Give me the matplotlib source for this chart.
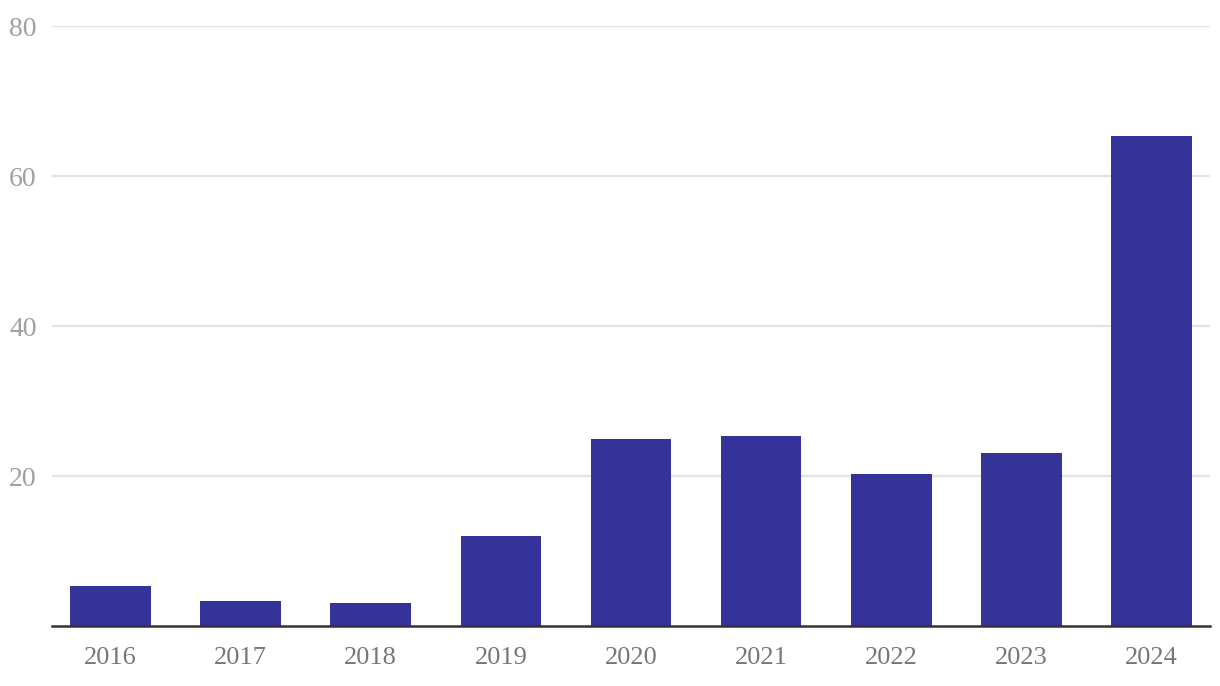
import numpy as np
import matplotlib.pyplot as plt

years = ['2016', '2017', '2018', '2019', '2020', '2021', '2022', '2023', '2024']
values = [5.4, 3.4, 3.1, 12.0, 24.9, 25.3, 20.3, 23.1, 65.3]

plt.rcParams['font.family'] = ['Liberation Serif', 'DejaVu Serif']

fig = plt.figure(figsize=(12.2, 6.86), dpi=100)
ax = fig.add_axes([52 / 1220, 60 / 686, 1158 / 1220, 600 / 686])

x = np.arange(len(years))
ax.bar(x, values, width=0.62, color='#35339a', zorder=3)

ax.set_xlim(-0.449, len(years) - 1 + 0.449)
ax.set_ylim(0, 80)
ax.set_yticks([20, 40, 60, 80])
ax.set_xticks(x)
ax.set_xticklabels(years)

ax.grid(axis='y', color='#e3e3e3', linewidth=1.6, zorder=0)
for side in ['left', 'right', 'top']:
    ax.spines[side].set_visible(False)
ax.spines['bottom'].set_color('#333333')
ax.spines['bottom'].set_linewidth(1.8)
ax.spines['bottom'].set_zorder(4)

ax.tick_params(axis='y', length=0, pad=11, labelsize=20, labelcolor='#a0a0a0')
ax.tick_params(axis='x', length=0, pad=15, labelsize=19, labelcolor='#777777')

fig.savefig('out.png', dpi=100)
